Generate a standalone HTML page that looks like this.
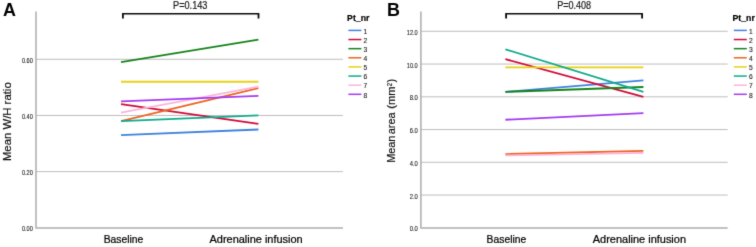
<!DOCTYPE html>
<html lang="en"><head><meta charset="utf-8"><title>Figure</title>
<style>html,body{margin:0;padding:0;background:#fff;}body{width:756px;height:247px;overflow:hidden;}svg{display:block;}text{font-family:"Liberation Sans",sans-serif;}</style>
</head><body>
<svg width="756" height="247" viewBox="0 0 756 247">
<defs><filter id="soft" filterUnits="userSpaceOnUse" x="0" y="0" width="756" height="247" color-interpolation-filters="sRGB"><feConvolveMatrix order="3" kernelMatrix="0.0121 0.0858 0.0121 0.0858 0.6084 0.0858 0.0121 0.0858 0.0121" edgeMode="duplicate" preserveAlpha="true"/></filter></defs>
<g filter="url(#soft)">
<rect x="0" y="0" width="756" height="247" fill="#ffffff"/>
<g>
<line x1="36.0" y1="171.63" x2="342.9" y2="171.63" stroke="#a2a2a2" stroke-width="0.7"/>
<line x1="36.0" y1="115.47" x2="342.9" y2="115.47" stroke="#a2a2a2" stroke-width="0.7"/>
<line x1="36.0" y1="59.30" x2="342.9" y2="59.30" stroke="#a2a2a2" stroke-width="0.7"/>
<path d="M36.0 11.6 V227.95000000000002 H342.9" fill="none" stroke="#adadad" stroke-width="1.5"/>
<text x="32.85" y="231.35" font-size="7.2" text-anchor="end" fill="#1c1c1c" stroke="#1c1c1c" stroke-width="0.12" textLength="10.9" lengthAdjust="spacingAndGlyphs">0.00</text>
<text x="32.85" y="175.18" font-size="7.2" text-anchor="end" fill="#1c1c1c" stroke="#1c1c1c" stroke-width="0.12" textLength="10.9" lengthAdjust="spacingAndGlyphs">0.20</text>
<text x="32.85" y="119.02" font-size="7.2" text-anchor="end" fill="#1c1c1c" stroke="#1c1c1c" stroke-width="0.12" textLength="10.9" lengthAdjust="spacingAndGlyphs">0.40</text>
<text x="32.85" y="62.85" font-size="7.2" text-anchor="end" fill="#1c1c1c" stroke="#1c1c1c" stroke-width="0.12" textLength="10.9" lengthAdjust="spacingAndGlyphs">0.60</text>
<line x1="121.0" y1="135.13" x2="258.4" y2="129.51" stroke="#3f82dc" stroke-width="1.8"/>
<line x1="121.0" y1="104.23" x2="258.4" y2="123.89" stroke="#d20a38" stroke-width="1.8"/>
<line x1="121.0" y1="62.11" x2="258.4" y2="39.64" stroke="#17831d" stroke-width="1.8"/>
<line x1="121.0" y1="121.08" x2="258.4" y2="88.23" stroke="#ee6520" stroke-width="1.8"/>
<line x1="121.0" y1="81.77" x2="258.4" y2="81.77" stroke="#e8d215" stroke-width="1.8"/>
<line x1="121.0" y1="121.08" x2="258.4" y2="115.47" stroke="#10aa8c" stroke-width="1.8"/>
<line x1="121.0" y1="112.66" x2="258.4" y2="86.54" stroke="#fbb4db" stroke-width="1.8"/>
<line x1="121.0" y1="101.43" x2="258.4" y2="95.81" stroke="#a23cf0" stroke-width="1.8"/>
<path d="M122.3 13.8 H259.1" fill="none" stroke="#0a0a0a" stroke-width="1.45"/>
<path d="M122.9 13.2 V18.4 M258.5 13.2 V18.4" fill="none" stroke="#0a0a0a" stroke-width="1.8"/>
<text x="173.05" y="9.2" font-size="10.1" fill="#1a1a1a" stroke="#1a1a1a" stroke-width="0.2" textLength="34.4" lengthAdjust="spacingAndGlyphs">P=0.143</text>
<text x="3" y="15.8" font-size="17.9" font-weight="bold" fill="#000">A</text>
<g transform="translate(11.0 161.1) rotate(-90)" font-size="10.75" fill="#0a0a0a" stroke="#0a0a0a" stroke-width="0.15"><text x="0" y="0" textLength="78.8" lengthAdjust="spacingAndGlyphs">Mean W/H ratio</text></g>
<text x="123.5" y="243.3" font-size="10.5" fill="#000" stroke="#000" stroke-width="0.22" text-anchor="middle" textLength="39.7" lengthAdjust="spacingAndGlyphs">Baseline</text>
<text x="256.1" y="243.3" font-size="10.5" fill="#000" stroke="#000" stroke-width="0.22" text-anchor="middle" textLength="93.2" lengthAdjust="spacingAndGlyphs">Adrenaline infusion</text>
<text x="347.1" y="21" font-size="8.9" font-weight="bold" fill="#000" stroke="#000" stroke-width="0.2" textLength="22.3" lengthAdjust="spacingAndGlyphs">Pt_nr</text>
<line x1="348.4" y1="30.40" x2="361.4" y2="30.40" stroke="#3f82dc" stroke-width="1.5"/>
<text x="363.6" y="33.60" font-size="6.7" fill="#1a1a1a" stroke="#1a1a1a" stroke-width="0.1">1</text>
<line x1="348.4" y1="39.53" x2="361.4" y2="39.53" stroke="#d20a38" stroke-width="1.5"/>
<text x="363.6" y="42.73" font-size="6.7" fill="#1a1a1a" stroke="#1a1a1a" stroke-width="0.1">2</text>
<line x1="348.4" y1="48.66" x2="361.4" y2="48.66" stroke="#17831d" stroke-width="1.5"/>
<text x="363.6" y="51.86" font-size="6.7" fill="#1a1a1a" stroke="#1a1a1a" stroke-width="0.1">3</text>
<line x1="348.4" y1="57.79" x2="361.4" y2="57.79" stroke="#ee6520" stroke-width="1.5"/>
<text x="363.6" y="60.99" font-size="6.7" fill="#1a1a1a" stroke="#1a1a1a" stroke-width="0.1">4</text>
<line x1="348.4" y1="66.92" x2="361.4" y2="66.92" stroke="#e8d215" stroke-width="1.5"/>
<text x="363.6" y="70.12" font-size="6.7" fill="#1a1a1a" stroke="#1a1a1a" stroke-width="0.1">5</text>
<line x1="348.4" y1="76.05" x2="361.4" y2="76.05" stroke="#10aa8c" stroke-width="1.5"/>
<text x="363.6" y="79.25" font-size="6.7" fill="#1a1a1a" stroke="#1a1a1a" stroke-width="0.1">6</text>
<line x1="348.4" y1="85.18" x2="361.4" y2="85.18" stroke="#fbb4db" stroke-width="1.5"/>
<text x="363.6" y="88.38" font-size="6.7" fill="#1a1a1a" stroke="#1a1a1a" stroke-width="0.1">7</text>
<line x1="348.4" y1="94.31" x2="361.4" y2="94.31" stroke="#a23cf0" stroke-width="1.5"/>
<text x="363.6" y="97.51" font-size="6.7" fill="#1a1a1a" stroke="#1a1a1a" stroke-width="0.1">8</text>
</g>
<g>
<line x1="420.9" y1="195.05" x2="727.7" y2="195.05" stroke="#a2a2a2" stroke-width="0.7"/>
<line x1="420.9" y1="162.30" x2="727.7" y2="162.30" stroke="#a2a2a2" stroke-width="0.7"/>
<line x1="420.9" y1="129.55" x2="727.7" y2="129.55" stroke="#a2a2a2" stroke-width="0.7"/>
<line x1="420.9" y1="96.80" x2="727.7" y2="96.80" stroke="#a2a2a2" stroke-width="0.7"/>
<line x1="420.9" y1="64.05" x2="727.7" y2="64.05" stroke="#a2a2a2" stroke-width="0.7"/>
<line x1="420.9" y1="31.30" x2="727.7" y2="31.30" stroke="#a2a2a2" stroke-width="0.7"/>
<path d="M420.9 11.6 V227.95000000000002 H727.7" fill="none" stroke="#adadad" stroke-width="1.5"/>
<text x="417.75" y="231.35" font-size="7.2" text-anchor="end" fill="#1c1c1c" stroke="#1c1c1c" stroke-width="0.12" textLength="8.1" lengthAdjust="spacingAndGlyphs">0.0</text>
<text x="417.75" y="198.60" font-size="7.2" text-anchor="end" fill="#1c1c1c" stroke="#1c1c1c" stroke-width="0.12" textLength="8.1" lengthAdjust="spacingAndGlyphs">2.0</text>
<text x="417.75" y="165.85" font-size="7.2" text-anchor="end" fill="#1c1c1c" stroke="#1c1c1c" stroke-width="0.12" textLength="8.1" lengthAdjust="spacingAndGlyphs">4.0</text>
<text x="417.75" y="133.10" font-size="7.2" text-anchor="end" fill="#1c1c1c" stroke="#1c1c1c" stroke-width="0.12" textLength="8.1" lengthAdjust="spacingAndGlyphs">6.0</text>
<text x="417.75" y="100.35" font-size="7.2" text-anchor="end" fill="#1c1c1c" stroke="#1c1c1c" stroke-width="0.12" textLength="8.1" lengthAdjust="spacingAndGlyphs">8.0</text>
<text x="417.75" y="67.60" font-size="7.2" text-anchor="end" fill="#1c1c1c" stroke="#1c1c1c" stroke-width="0.12" textLength="10.9" lengthAdjust="spacingAndGlyphs">10.0</text>
<text x="417.75" y="34.85" font-size="7.2" text-anchor="end" fill="#1c1c1c" stroke="#1c1c1c" stroke-width="0.12" textLength="10.9" lengthAdjust="spacingAndGlyphs">12.0</text>
<line x1="505.4" y1="91.89" x2="643.4" y2="80.43" stroke="#3f82dc" stroke-width="1.8"/>
<line x1="505.4" y1="59.14" x2="643.4" y2="96.80" stroke="#d20a38" stroke-width="1.8"/>
<line x1="505.4" y1="91.89" x2="643.4" y2="86.98" stroke="#17831d" stroke-width="1.8"/>
<line x1="505.4" y1="154.11" x2="643.4" y2="150.84" stroke="#ee6520" stroke-width="1.8"/>
<line x1="505.4" y1="67.32" x2="643.4" y2="67.32" stroke="#e8d215" stroke-width="1.8"/>
<line x1="505.4" y1="49.31" x2="643.4" y2="91.89" stroke="#10aa8c" stroke-width="1.8"/>
<line x1="505.4" y1="155.42" x2="643.4" y2="152.80" stroke="#fbb4db" stroke-width="1.8"/>
<line x1="505.4" y1="119.73" x2="643.4" y2="113.18" stroke="#a23cf0" stroke-width="1.8"/>
<path d="M505.5 13.8 H642.7" fill="none" stroke="#0a0a0a" stroke-width="1.45"/>
<path d="M506.1 13.2 V18.4 M642.1 13.2 V18.4" fill="none" stroke="#0a0a0a" stroke-width="1.8"/>
<text x="557.15" y="9.2" font-size="10.1" fill="#1a1a1a" stroke="#1a1a1a" stroke-width="0.2" textLength="34.0" lengthAdjust="spacingAndGlyphs">P=0.408</text>
<text x="387.0" y="15.8" font-size="17.9" font-weight="bold" fill="#000">B</text>
<g transform="translate(395.0 162.8) rotate(-90)" font-size="10.2" fill="#0a0a0a" stroke="#0a0a0a" stroke-width="0.15"><text x="0" y="0" textLength="27.2" lengthAdjust="spacingAndGlyphs">Mean</text><text x="28.65" y="0" textLength="21.7" lengthAdjust="spacingAndGlyphs">area</text><text x="54.15" y="0" textLength="22.3" lengthAdjust="spacingAndGlyphs">(mm</text><text x="76.5" y="-3.5" font-size="6.8" textLength="3.3" lengthAdjust="spacingAndGlyphs">2</text><text x="80.2" y="0" textLength="3.5" lengthAdjust="spacingAndGlyphs">)</text></g>
<text x="506.4" y="243.3" font-size="10.5" fill="#000" stroke="#000" stroke-width="0.22" text-anchor="middle" textLength="39.7" lengthAdjust="spacingAndGlyphs">Baseline</text>
<text x="639.4" y="243.3" font-size="10.5" fill="#000" stroke="#000" stroke-width="0.22" text-anchor="middle" textLength="93.2" lengthAdjust="spacingAndGlyphs">Adrenaline infusion</text>
<text x="732.5" y="21" font-size="8.9" font-weight="bold" fill="#000" stroke="#000" stroke-width="0.2" textLength="22.3" lengthAdjust="spacingAndGlyphs">Pt_nr</text>
<line x1="733.8" y1="30.40" x2="746.8" y2="30.40" stroke="#3f82dc" stroke-width="1.5"/>
<text x="749.0" y="33.60" font-size="6.7" fill="#1a1a1a" stroke="#1a1a1a" stroke-width="0.1">1</text>
<line x1="733.8" y1="39.53" x2="746.8" y2="39.53" stroke="#d20a38" stroke-width="1.5"/>
<text x="749.0" y="42.73" font-size="6.7" fill="#1a1a1a" stroke="#1a1a1a" stroke-width="0.1">2</text>
<line x1="733.8" y1="48.66" x2="746.8" y2="48.66" stroke="#17831d" stroke-width="1.5"/>
<text x="749.0" y="51.86" font-size="6.7" fill="#1a1a1a" stroke="#1a1a1a" stroke-width="0.1">3</text>
<line x1="733.8" y1="57.79" x2="746.8" y2="57.79" stroke="#ee6520" stroke-width="1.5"/>
<text x="749.0" y="60.99" font-size="6.7" fill="#1a1a1a" stroke="#1a1a1a" stroke-width="0.1">4</text>
<line x1="733.8" y1="66.92" x2="746.8" y2="66.92" stroke="#e8d215" stroke-width="1.5"/>
<text x="749.0" y="70.12" font-size="6.7" fill="#1a1a1a" stroke="#1a1a1a" stroke-width="0.1">5</text>
<line x1="733.8" y1="76.05" x2="746.8" y2="76.05" stroke="#10aa8c" stroke-width="1.5"/>
<text x="749.0" y="79.25" font-size="6.7" fill="#1a1a1a" stroke="#1a1a1a" stroke-width="0.1">6</text>
<line x1="733.8" y1="85.18" x2="746.8" y2="85.18" stroke="#fbb4db" stroke-width="1.5"/>
<text x="749.0" y="88.38" font-size="6.7" fill="#1a1a1a" stroke="#1a1a1a" stroke-width="0.1">7</text>
<line x1="733.8" y1="94.31" x2="746.8" y2="94.31" stroke="#a23cf0" stroke-width="1.5"/>
<text x="749.0" y="97.51" font-size="6.7" fill="#1a1a1a" stroke="#1a1a1a" stroke-width="0.1">8</text>
</g>
</g>
</svg>
</body></html>
